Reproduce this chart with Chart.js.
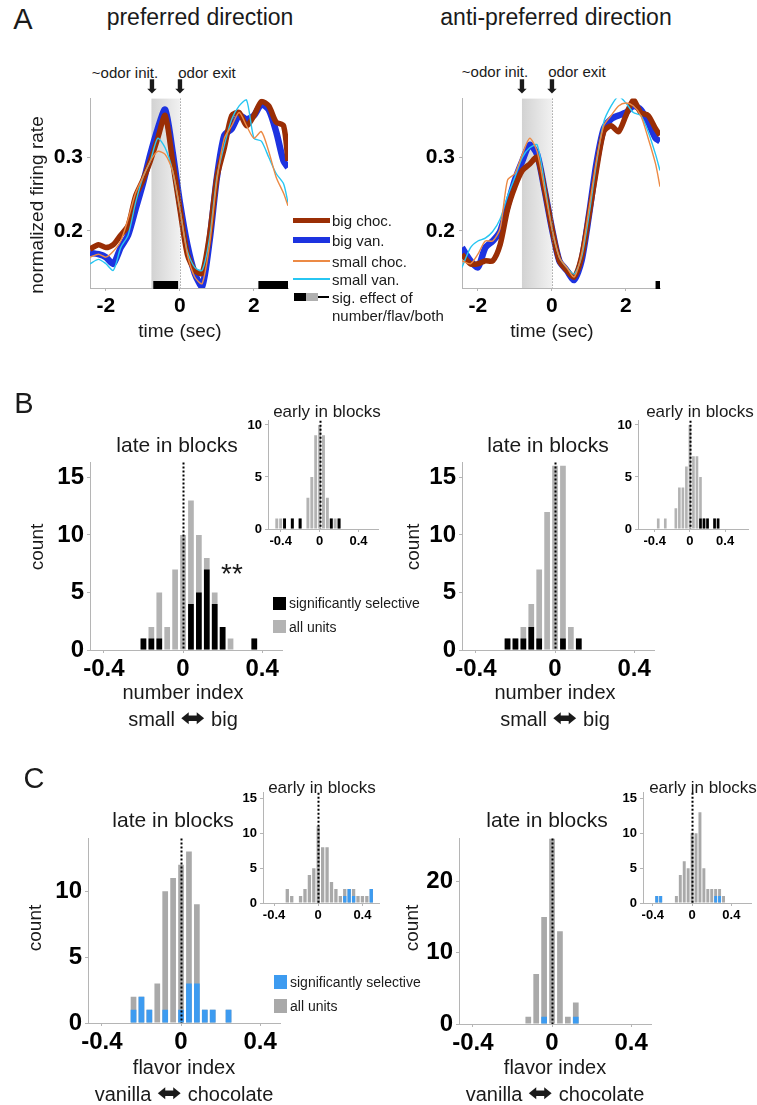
<!DOCTYPE html>
<html>
<head>
<meta charset="utf-8">
<script src="https://cdn.jsdelivr.net/npm/chart.js@4.4.0/dist/chart.umd.min.js"></script>
<style>
  body { margin: 0; background: #fff; width: 757px; height: 1105px; position: relative; overflow: hidden;
         font-family: "Liberation Sans", Arial, sans-serif; color: #1a1a1a; }
  canvas { position: absolute; }
  .t { position: absolute; white-space: nowrap; transform: translate(-50%, -50%); }
  .l { position: absolute; white-space: nowrap; transform: translate(0, -50%); }
  .v { position: absolute; white-space: nowrap; transform: translate(-50%, -50%) rotate(-90deg); }
  .sw { position: absolute; }
  .arr { font-family: "DejaVu Sans", sans-serif; }
  .dbl { font-family: "DejaVu Sans", sans-serif; font-size: 30px; display: inline-block; transform: scaleY(0.8); vertical-align: -3px; }
</style>
</head>
<body>

<canvas id="aPref"></canvas>
<canvas id="aAnti"></canvas>
<canvas id="bLeft"></canvas>
<canvas id="bLeftEarly"></canvas>
<canvas id="bRight"></canvas>
<canvas id="bRightEarly"></canvas>
<canvas id="cLeft"></canvas>
<canvas id="cLeftEarly"></canvas>
<canvas id="cRight"></canvas>
<canvas id="cRightEarly"></canvas>

<!-- panel A text -->
<div class="t" style="left:23px;top:19px;font-size:29px">A</div>
<div class="t" style="left:200px;top:17px;font-size:23px">preferred direction</div>
<div class="t" style="left:556px;top:17px;font-size:23px">anti-preferred direction</div>
<div class="t" style="left:125px;top:72px;font-size:15px">~odor init.</div>
<div class="t" style="left:207px;top:72px;font-size:15px">odor exit</div>
<div class="t" style="left:495px;top:71px;font-size:15px">~odor init.</div>
<div class="t" style="left:577px;top:71px;font-size:15px">odor exit</div>
<div class="t arr" style="left:152px;top:86px;font-size:19px">⬇</div>
<div class="t arr" style="left:180px;top:86px;font-size:19px">⬇</div>
<div class="t arr" style="left:522px;top:86px;font-size:19px">⬇</div>
<div class="t arr" style="left:552px;top:86px;font-size:19px">⬇</div>
<div class="v" style="left:37px;top:205px;font-size:19px">normalized firing rate</div>
<div class="t" style="left:180px;top:331px;font-size:19px">time (sec)</div>
<div class="t" style="left:552px;top:331px;font-size:19px">time (sec)</div>

<!-- panel A legend -->
<div class="sw" style="left:293px;top:218px;width:37px;height:5px;background:#9a2e05"></div>
<div class="sw" style="left:293px;top:237px;width:37px;height:6px;background:#1d33e0"></div>
<div class="sw" style="left:293px;top:260px;width:37px;height:2px;background:#ec8a45"></div>
<div class="sw" style="left:293px;top:278px;width:37px;height:2px;background:#27c6f2"></div>
<div class="sw" style="left:294px;top:293px;width:12px;height:8px;background:#000"></div>
<div class="sw" style="left:306px;top:293px;width:12px;height:8px;background:#b0b0b0"></div>
<div class="sw" style="left:318px;top:296px;width:11px;height:2px;background:#000"></div>
<div class="l" style="left:332px;top:220px;font-size:15px">big choc.</div>
<div class="l" style="left:332px;top:240px;font-size:15px">big van.</div>
<div class="l" style="left:332px;top:261px;font-size:15px">small choc.</div>
<div class="l" style="left:332px;top:279px;font-size:15px">small van.</div>
<div class="l" style="left:332px;top:297px;font-size:15px">sig. effect of</div>
<div class="l" style="left:332px;top:315px;font-size:15px">number/flav/both</div>

<!-- panel B text -->
<div class="t" style="left:24px;top:403px;font-size:29px">B</div>
<div class="t" style="left:177px;top:445px;font-size:21px">late in blocks</div>
<div class="t" style="left:548px;top:445px;font-size:21px">late in blocks</div>
<div class="t" style="left:327px;top:412px;font-size:17px">early in blocks</div>
<div class="t" style="left:700px;top:412px;font-size:17px">early in blocks</div>
<div class="v" style="left:37px;top:547px;font-size:19px">count</div>
<div class="v" style="left:413px;top:547px;font-size:19px">count</div>
<div class="t" style="left:232px;top:574px;font-size:28px">**</div>
<div class="sw" style="left:273px;top:597px;width:13px;height:13px;background:#000"></div>
<div class="l" style="left:289px;top:603px;font-size:14px">significantly selective</div>
<div class="sw" style="left:273px;top:620px;width:13px;height:13px;background:#b3b3b3"></div>
<div class="l" style="left:289px;top:627px;font-size:14px">all units</div>
<div class="t" style="left:183px;top:692px;font-size:20px">number index</div>
<div class="t" style="left:555px;top:692px;font-size:20px">number index</div>
<div class="t" style="left:183px;top:718px;font-size:20px">small <span class="dbl">⬌</span> big</div>
<div class="t" style="left:555px;top:718px;font-size:20px">small <span class="dbl">⬌</span> big</div>

<!-- panel C text -->
<div class="t" style="left:34px;top:778px;font-size:29px">C</div>
<div class="t" style="left:173px;top:820px;font-size:21px">late in blocks</div>
<div class="t" style="left:547px;top:820px;font-size:21px">late in blocks</div>
<div class="t" style="left:322px;top:788px;font-size:17px">early in blocks</div>
<div class="t" style="left:703px;top:788px;font-size:17px">early in blocks</div>
<div class="v" style="left:35px;top:928px;font-size:19px">count</div>
<div class="v" style="left:412px;top:928px;font-size:19px">count</div>
<div class="sw" style="left:274px;top:975px;width:13px;height:14px;background:#3d9bf0"></div>
<div class="l" style="left:290px;top:982px;font-size:14px">significantly selective</div>
<div class="sw" style="left:274px;top:999px;width:13px;height:14px;background:#a9a9a9"></div>
<div class="l" style="left:290px;top:1006px;font-size:14px">all units</div>
<div class="t" style="left:184px;top:1067px;font-size:20px">flavor index</div>
<div class="t" style="left:555px;top:1067px;font-size:20px">flavor index</div>
<div class="t" style="left:184px;top:1093px;font-size:20px">vanilla <span class="dbl">⬌</span> chocolate</div>
<div class="t" style="left:555px;top:1093px;font-size:20px">vanilla <span class="dbl">⬌</span> chocolate</div>

<script>
// ---------- panel A: normalized firing rate vs time ----------
const timeSec = [-2.43, -2.2, -2.0, -1.8, -1.6, -1.4, -1.2, -1.0, -0.8, -0.6, -0.4, -0.2, 0,
                 0.2, 0.4, 0.6, 0.8, 1.0, 1.2, 1.4, 1.6, 1.8, 2.0, 2.2, 2.4, 2.6, 2.8, 2.92];

const bigChocPref   = [0.175, 0.181, 0.177, 0.181, 0.194, 0.207, 0.247, 0.269, 0.295, 0.326, 0.357, 0.295, 0.229,
                       0.168, 0.146, 0.142, 0.194, 0.273, 0.313, 0.357, 0.361, 0.343, 0.357, 0.376, 0.370, 0.348, 0.343, 0.295];
const bigVanPref    = [0.170, 0.168, 0.164, 0.155, 0.177, 0.194, 0.229, 0.264, 0.304, 0.339, 0.365, 0.308, 0.238,
                       0.181, 0.142, 0.124, 0.186, 0.273, 0.330, 0.339, 0.357, 0.352, 0.357, 0.372, 0.365, 0.335, 0.295, 0.286];
const smallChocPref = [0.164, 0.168, 0.164, 0.172, 0.186, 0.216, 0.251, 0.273, 0.295, 0.308, 0.304, 0.282, 0.229,
                       0.168, 0.137, 0.128, 0.181, 0.269, 0.326, 0.343, 0.361, 0.343, 0.326, 0.335, 0.308, 0.273, 0.251, 0.234];
const smallVanPref  = [0.155, 0.161, 0.155, 0.146, 0.177, 0.194, 0.238, 0.273, 0.295, 0.326, 0.313, 0.282, 0.229,
                       0.172, 0.150, 0.146, 0.190, 0.273, 0.317, 0.352, 0.370, 0.378, 0.326, 0.322, 0.300, 0.278, 0.264, 0.238];

const bigChocAnti   = [0.168, 0.155, 0.155, 0.159, 0.159, 0.181, 0.229, 0.260, 0.282, 0.291, 0.300, 0.256, 0.203,
                       0.159, 0.146, 0.137, 0.164, 0.221, 0.282, 0.335, 0.343, 0.335, 0.357, 0.378, 0.361, 0.357, 0.339, 0.330];
const bigVanAnti    = [0.177, 0.159, 0.150, 0.177, 0.186, 0.199, 0.234, 0.269, 0.295, 0.317, 0.304, 0.256, 0.203,
                       0.159, 0.146, 0.133, 0.159, 0.221, 0.291, 0.339, 0.352, 0.357, 0.361, 0.370, 0.365, 0.348, 0.326, 0.322];
const smallChocAnti = [0.159, 0.155, 0.168, 0.186, 0.186, 0.203, 0.269, 0.278, 0.304, 0.326, 0.308, 0.256, 0.203,
                       0.164, 0.150, 0.137, 0.168, 0.230, 0.295, 0.343, 0.357, 0.370, 0.374, 0.370, 0.357, 0.326, 0.291, 0.260];
const smallVanAnti  = [0.150, 0.177, 0.186, 0.190, 0.199, 0.216, 0.247, 0.273, 0.300, 0.313, 0.317, 0.264, 0.203,
                       0.164, 0.150, 0.141, 0.164, 0.221, 0.291, 0.348, 0.370, 0.383, 0.374, 0.361, 0.357, 0.335, 0.304, 0.282];

const rateTicks = [0.2, 0.3];
const timeTicks = [-2, 0, 2];
const odorPref = [-0.77, 0];        // shaded odor period
const odorAnti = [-0.81, 0];
const sigPref = [[-0.72, -0.05], [2.12, 2.92]];
const sigAnti = [[2.8, 2.92]];

// ---------- panels B and C: histograms (bin centres, counts) ----------
const idxTicks = [-0.4, 0, 0.4];

const numBins      = [-0.28, -0.24, -0.2, -0.16, -0.12, -0.08, -0.04, 0, 0.04, 0.08, 0.12, 0.16, 0.2, 0.24, 0.28, 0.32, 0.36, 0.4];
const numLateAllL  = [0, 0, 1, 2, 5, 2, 7, 10, 13, 10, 8, 5, 2, 1, 0, 0, 1, 0];
const numLateSigL  = [0, 0, 1, 1, 1, 0, 0, 0, 4, 5, 7, 4, 2, 0, 0, 0, 1, 0];
const numLateAllR  = [0, 1, 1, 2, 4, 7, 12, 16, 16, 2, 1, 0, 0, 0, 0, 0, 0, 0];
const numLateSigR  = [0, 1, 1, 1, 2, 1, 0, 0, 1, 0, 1, 0, 0, 0, 0, 0, 0, 0];

const earlyBins     = [-0.52, -0.48, -0.44, -0.4, -0.36, -0.32, -0.28, -0.24, -0.2, -0.16, -0.12, -0.08, -0.04,
                       0, 0.04, 0.08, 0.12, 0.16, 0.2, 0.24, 0.28, 0.32, 0.36, 0.4, 0.44, 0.48, 0.52];
const numEarlyAllL  = [0, 0, 1, 1, 1, 0, 1, 0, 1, 0, 3, 5, 9, 10, 9, 3, 1, 1, 1, 0, 0, 0, 0, 0, 0, 0, 0];
const numEarlySigL  = [0, 0, 0, 0, 1, 0, 1, 0, 1, 0, 0, 0, 0, 0, 0, 0, 1, 0, 1, 0, 0, 0, 0, 0, 0, 0, 0];
const numEarlyAllR  = [0, 0, 0, 0, 1, 0, 1, 0, 0, 2, 4, 4, 6, 10, 7, 7, 5, 1, 1, 0, 1, 1, 0, 0, 0, 0, 0];
const numEarlySigR  = [0, 0, 0, 0, 0, 0, 0, 0, 0, 0, 0, 0, 0, 0, 0, 0, 1, 1, 1, 0, 1, 1, 0, 0, 0, 0, 0];

const flavLateAllL = [0, 2, 2, 1, 3, 10, 11, 12, 13, 9, 1, 1, 0, 1, 0, 0, 0, 0];
const flavLateSigL = [0, 1, 2, 1, 0, 1, 0, 1, 3, 3, 1, 1, 0, 1, 0, 0, 0, 0];
const flavLateAllR = [0, 0, 0, 0, 1, 7, 15, 26, 13, 1, 3, 0, 0, 0, 0, 0, 0, 0];
const flavLateSigR = [0, 0, 0, 0, 0, 0, 1, 0, 0, 0, 1, 0, 0, 0, 0, 0, 0, 0];

const flavEarlyAllL = [1, 0, 0, 0, 0, 0, 2, 1, 0, 1, 2, 4, 5, 11, 8, 8, 3, 2, 1, 2, 2, 2, 1, 1, 1, 2, 0];
const flavEarlySigL = [1, 0, 0, 0, 0, 0, 0, 0, 0, 0, 0, 0, 0, 0, 0, 0, 0, 0, 0, 1, 2, 1, 0, 0, 0, 2, 0];
const flavEarlyAllR = [0, 0, 0, 0, 1, 1, 0, 0, 0, 1, 4, 6, 5, 10, 10, 13, 5, 2, 2, 2, 2, 1, 0, 0, 0, 0, 0];
const flavEarlySigR = [0, 0, 0, 0, 1, 1, 0, 0, 0, 0, 0, 0, 0, 0, 0, 0, 0, 0, 0, 1, 1, 0, 0, 0, 0, 0, 0];

// ---------- helpers ----------
Chart.defaults.font.family = '"Liberation Sans", Arial, sans-serif';
Chart.defaults.animation = false;

const GREY_AXIS = '#b5b5b5';

// size a canvas so that its plot area lands on the given box
function place(id, b) {
    const c = document.getElementById(id);
    const w = b.yw + b.w + b.pr, h = b.pt + b.h + b.xh;
    c.width = w; c.height = h;
    c.style.left = (b.left - b.yw) + 'px';
    c.style.top = (b.top - b.pt) + 'px';
    c.style.width = w + 'px'; c.style.height = h + 'px';
    return c;
}

function axisCfg(min, max, ticks, size, font, pad) {
    return {
        type: 'linear', min: min, max: max, offset: false,
        afterBuildTicks: s => { s.ticks = ticks.map(v => ({ value: v })); },
        afterFit: s => { if (s.isHorizontal()) s.height = size; else s.width = size; },
        grid: { display: true, drawOnChartArea: false, drawTicks: true, tickLength: 3, color: GREY_AXIS, offset: false },
        border: { display: true, color: GREY_AXIS, width: 1 },
        ticks: { color: '#000', font: { size: font, weight: 'bold' }, padding: pad, maxRotation: 0, minRotation: 0,
                 autoSkip: false, callback: v => String(Number(v.toFixed(2))) }
    };
}

const zeroLine = {
    id: 'zeroLine',
    afterDatasetsDraw(chart, args, o) {
        const { ctx, chartArea: a, scales: { x } } = chart;
        const px = Math.round(x.getPixelForValue(0)) + 0.5;
        ctx.save();
        ctx.strokeStyle = o.color; ctx.lineWidth = o.width; ctx.setLineDash(o.dash);
        ctx.beginPath(); ctx.moveTo(px, a.top); ctx.lineTo(px, a.bottom); ctx.stroke();
        ctx.restore();
    }
};

const odorShade = {
    id: 'odorShade',
    beforeDatasetsDraw(chart, args, o) {
        const { ctx, chartArea: a, scales: { x } } = chart;
        const x0 = x.getPixelForValue(o.range[0]), x1 = x.getPixelForValue(o.range[1]);
        const g = ctx.createLinearGradient(x0, 0, x1, 0);
        g.addColorStop(0, '#d2d2d2');
        g.addColorStop(1, '#f1f1f1');
        ctx.save(); ctx.fillStyle = g; ctx.fillRect(x0, a.top, x1 - x0, a.bottom - a.top); ctx.restore();
    }
};

const sigBars = {
    id: 'sigBars',
    afterDatasetsDraw(chart, args, o) {
        const { ctx, chartArea: a, scales: { x } } = chart;
        ctx.save(); ctx.fillStyle = '#000';
        o.spans.forEach(s => {
            const x0 = x.getPixelForValue(s[0]), x1 = x.getPixelForValue(s[1]);
            ctx.fillRect(x0, a.bottom - 7, x1 - x0, 8);
        });
        ctx.restore();
    }
};

function rateChart(id, box, curves, shade, spans) {
    const c = place(id, box);
    const line = (vals, color, width) => ({
        data: timeSec.map((t, i) => ({ x: t, y: vals[i] })),
        borderColor: color, borderWidth: width, pointRadius: 0, tension: 0.25, fill: false
    });
    new Chart(c, {
        type: 'line',
        data: { datasets: [
            line(curves[2], '#ec8a45', 1.4),
            line(curves[3], '#27c6f2', 1.4),
            line(curves[0], '#9a2e05', 5.5),
            line(curves[1], '#1d33e0', 6.5)
        ] },
        options: {
            responsive: false, events: [],
            layout: { padding: { top: box.pt, right: box.pr, left: 0, bottom: 0 } },
            plugins: { legend: { display: false }, tooltip: { enabled: false },
                       odorShade: { range: shade }, sigBars: { spans: spans },
                       zeroLine: { color: '#777', width: 1, dash: [1, 2] } },
            scales: {
                x: axisCfg(-2.43, 2.92, timeTicks, box.xh, 21, 3),
                y: axisCfg(0.122, 0.38, rateTicks, box.yw, 21, 4)
            }
        },
        plugins: [odorShade, zeroLine, sigBars]
    });
}

function histChart(id, box, xr, yr, yTicks, bins, all, sig, sigColor, allColor, font, barPct) {
    const c = place(id, box);
    const bars = (vals, color, order) => ({
        data: bins.map((b, i) => ({ x: b, y: vals[i] })),
        backgroundColor: color, grouped: false, order: order,
        barPercentage: barPct, categoryPercentage: 1
    });
    new Chart(c, {
        type: 'bar',
        data: { datasets: [ bars(sig, sigColor, 0), bars(all, allColor, 1) ] },
        options: {
            responsive: false, events: [],
            layout: { padding: { top: box.pt, right: box.pr, left: 0, bottom: 0 } },
            plugins: { legend: { display: false }, tooltip: { enabled: false },
                       zeroLine: { color: '#000', width: 2, dash: [2, 2] } },
            scales: {
                x: axisCfg(xr[0], xr[1], idxTicks, box.xh, font, 2),
                y: axisCfg(yr[0], yr[1], yTicks, box.yw, font, 3)
            }
        },
        plugins: [zeroLine]
    });
}

// ---------- draw ----------
rateChart('aPref', { left: 90, top: 92, w: 198, h: 196, yw: 44, xh: 34, pt: 10, pr: 10 },
          [bigChocPref, bigVanPref, smallChocPref, smallVanPref], odorPref, sigPref);
rateChart('aAnti', { left: 462, top: 92, w: 198, h: 196, yw: 44, xh: 34, pt: 10, pr: 10 },
          [bigChocAnti, bigVanAnti, smallChocAnti, smallVanAnti], odorAnti, sigAnti);

const BLACK = '#000', GREY_B = '#b3b3b3', GREY_C = '#a9a9a9', BLUE = '#3d9bf0';

histChart('bLeft', { left: 90, top: 457, w: 192, h: 193, yw: 40, xh: 34, pt: 12, pr: 20 },
          [-0.47, 0.5], [0, 16.3], [0, 5, 10, 15], numBins, numLateAllL, numLateSigL, BLACK, GREY_B, 24, 0.72);
histChart('bRight', { left: 462, top: 457, w: 192, h: 193, yw: 40, xh: 34, pt: 12, pr: 20 },
          [-0.47, 0.5], [0, 16.3], [0, 5, 10, 15], numBins, numLateAllR, numLateSigR, BLACK, GREY_B, 24, 0.72);
histChart('bLeftEarly', { left: 268, top: 418, w: 110, h: 111, yw: 22, xh: 20, pt: 8, pr: 12 },
          [-0.53, 0.6], [0, 10.4], [0, 5, 10], earlyBins, numEarlyAllL, numEarlySigL, BLACK, GREY_B, 13, 0.75);
histChart('bRightEarly', { left: 638, top: 418, w: 110, h: 111, yw: 22, xh: 20, pt: 8, pr: 8 },
          [-0.59, 0.66], [0, 10.4], [0, 5, 10], earlyBins, numEarlyAllR, numEarlySigR, BLACK, GREY_B, 13, 0.75);

histChart('cLeft', { left: 88, top: 833, w: 192, h: 190, yw: 40, xh: 34, pt: 12, pr: 20 },
          [-0.47, 0.5], [0, 14], [0, 5, 10], numBins, flavLateAllL, flavLateSigL, BLUE, GREY_C, 24, 0.72);
histChart('cRight', { left: 459, top: 833, w: 192, h: 191, yw: 40, xh: 34, pt: 12, pr: 20 },
          [-0.47, 0.5], [0, 26], [0, 10, 20], numBins, flavLateAllR, flavLateSigR, BLUE, GREY_C, 24, 0.72);
histChart('cLeftEarly', { left: 263, top: 790, w: 116, h: 113, yw: 22, xh: 20, pt: 8, pr: 12 },
          [-0.5, 0.55], [0, 15.8], [0, 5, 10, 15], earlyBins, flavEarlyAllL, flavEarlySigL, BLUE, GREY_C, 13, 0.75);
histChart('cRightEarly', { left: 643, top: 790, w: 108, h: 113, yw: 22, xh: 20, pt: 8, pr: 5 },
          [-0.5, 0.6], [0, 15.8], [0, 5, 10, 15], earlyBins, flavEarlyAllR, flavEarlySigR, BLUE, GREY_C, 13, 0.75);
</script>
</body>
</html>
